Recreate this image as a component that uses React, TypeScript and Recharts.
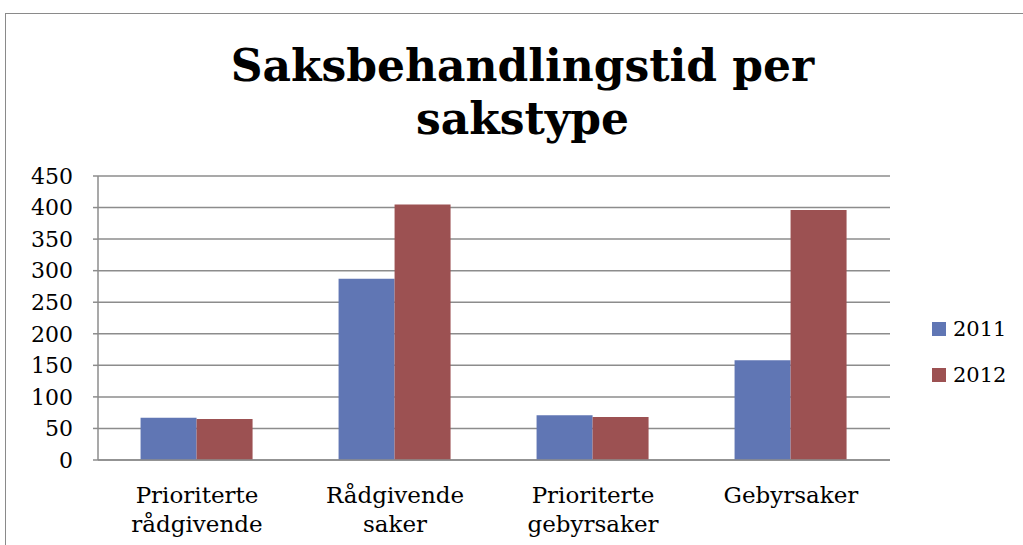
import React from 'react';
import { BarChart, Bar, XAxis, YAxis, CartesianGrid, Legend } from 'recharts';

const categories = ['Prioriterte rådgivende', 'Rådgivende saker', 'Prioriterte gebyrsaker', 'Gebyrsaker'];
const values2011 = [67, 287, 71, 158];
const values2012 = [65, 405, 68, 396];
const yTicks = [0, 50, 100, 150, 200, 250, 300, 350, 400, 450];

const COLOR_2011 = '#6076b4';
const COLOR_2012 = '#9c5152';
const GRID = '#8c8c8c';
const FONT = '"DejaVu Serif", Georgia, serif';

const data = categories.map((name, i) => ({
  name,
  y2011: values2011[i],
  y2012: values2012[i],
}));

// category labels wrap onto two lines like the original
const CategoryTick = ({ x, y, payload }: any) => {
  const lines = String(payload.value).split(' ');
  return (
    <text x={x} y={y} textAnchor="middle" fontFamily={FONT} fontSize={23} fill="#000">
      {lines.map((line, i) => (
        <tspan key={i} x={x} dy={i === 0 ? 35 : 29}>
          {line}
        </tspan>
      ))}
    </text>
  );
};

const LegendContent = ({ payload }: any) => (
  <div style={{ fontFamily: FONT, fontSize: 21, color: '#000' }}>
    {(payload || []).map((entry: any) => (
      <div key={entry.value} style={{ display: 'flex', alignItems: 'center', height: 46 }}>
        <span style={{ display: 'inline-block', width: 14, height: 14, background: entry.color, marginRight: 7 }} />
        {entry.value}
      </div>
    ))}
  </div>
);

export default function App() {
  return (
    <div style={{ position: 'absolute', left: 0, top: 0, width: 1023, height: 545, background: '#fff', overflow: 'hidden' }}>
      <div
        style={{
          position: 'absolute',
          left: 5,
          top: 13,
          width: 1100,
          height: 700,
          border: '1.5px solid #8a8a8a',
        }}
      />
      <div
        style={{
          position: 'absolute',
          left: 0,
          top: 39,
          width: 1045,
          textAlign: 'center',
          fontFamily: FONT,
          fontWeight: 'bold',
          fontSize: 44,
          lineHeight: '53px',
          color: '#000',
        }}
      >
        Saksbehandlingstid per
        <br />
        sakstype
      </div>
      <BarChart
        width={1023}
        height={545}
        data={data}
        margin={{ top: 176, right: 43, left: 20, bottom: 5 }}
        barCategoryGap="21.5%"
        barGap={0}
        style={{ position: 'absolute', left: 0, top: 0 }}
      >
        <CartesianGrid vertical={false} stroke={GRID} strokeWidth={1.5} />
        <XAxis
          dataKey="name"
          height={80}
          tick={<CategoryTick />}
          tickLine={false}
          axisLine={{ stroke: GRID, strokeWidth: 1.5 }}
          interval={0}
        />
        <YAxis
          width={78}
          domain={[0, 450]}
          ticks={yTicks}
          interval={0}
          tickSize={5}
          tickMargin={20}
          tick={{ fontFamily: FONT, fontSize: 22, fill: '#000' }}
          tickLine={{ stroke: GRID, strokeWidth: 1.5 }}
          axisLine={{ stroke: GRID, strokeWidth: 1.5 }}
        />
        <Legend
          layout="vertical"
          align="right"
          verticalAlign="top"
          content={<LegendContent />}
          wrapperStyle={{ left: 932, top: 306, width: 90 }}
        />
        <Bar dataKey="y2011" name="2011" fill={COLOR_2011} isAnimationActive={false} />
        <Bar dataKey="y2012" name="2012" fill={COLOR_2012} isAnimationActive={false} />
      </BarChart>
    </div>
  );
}
